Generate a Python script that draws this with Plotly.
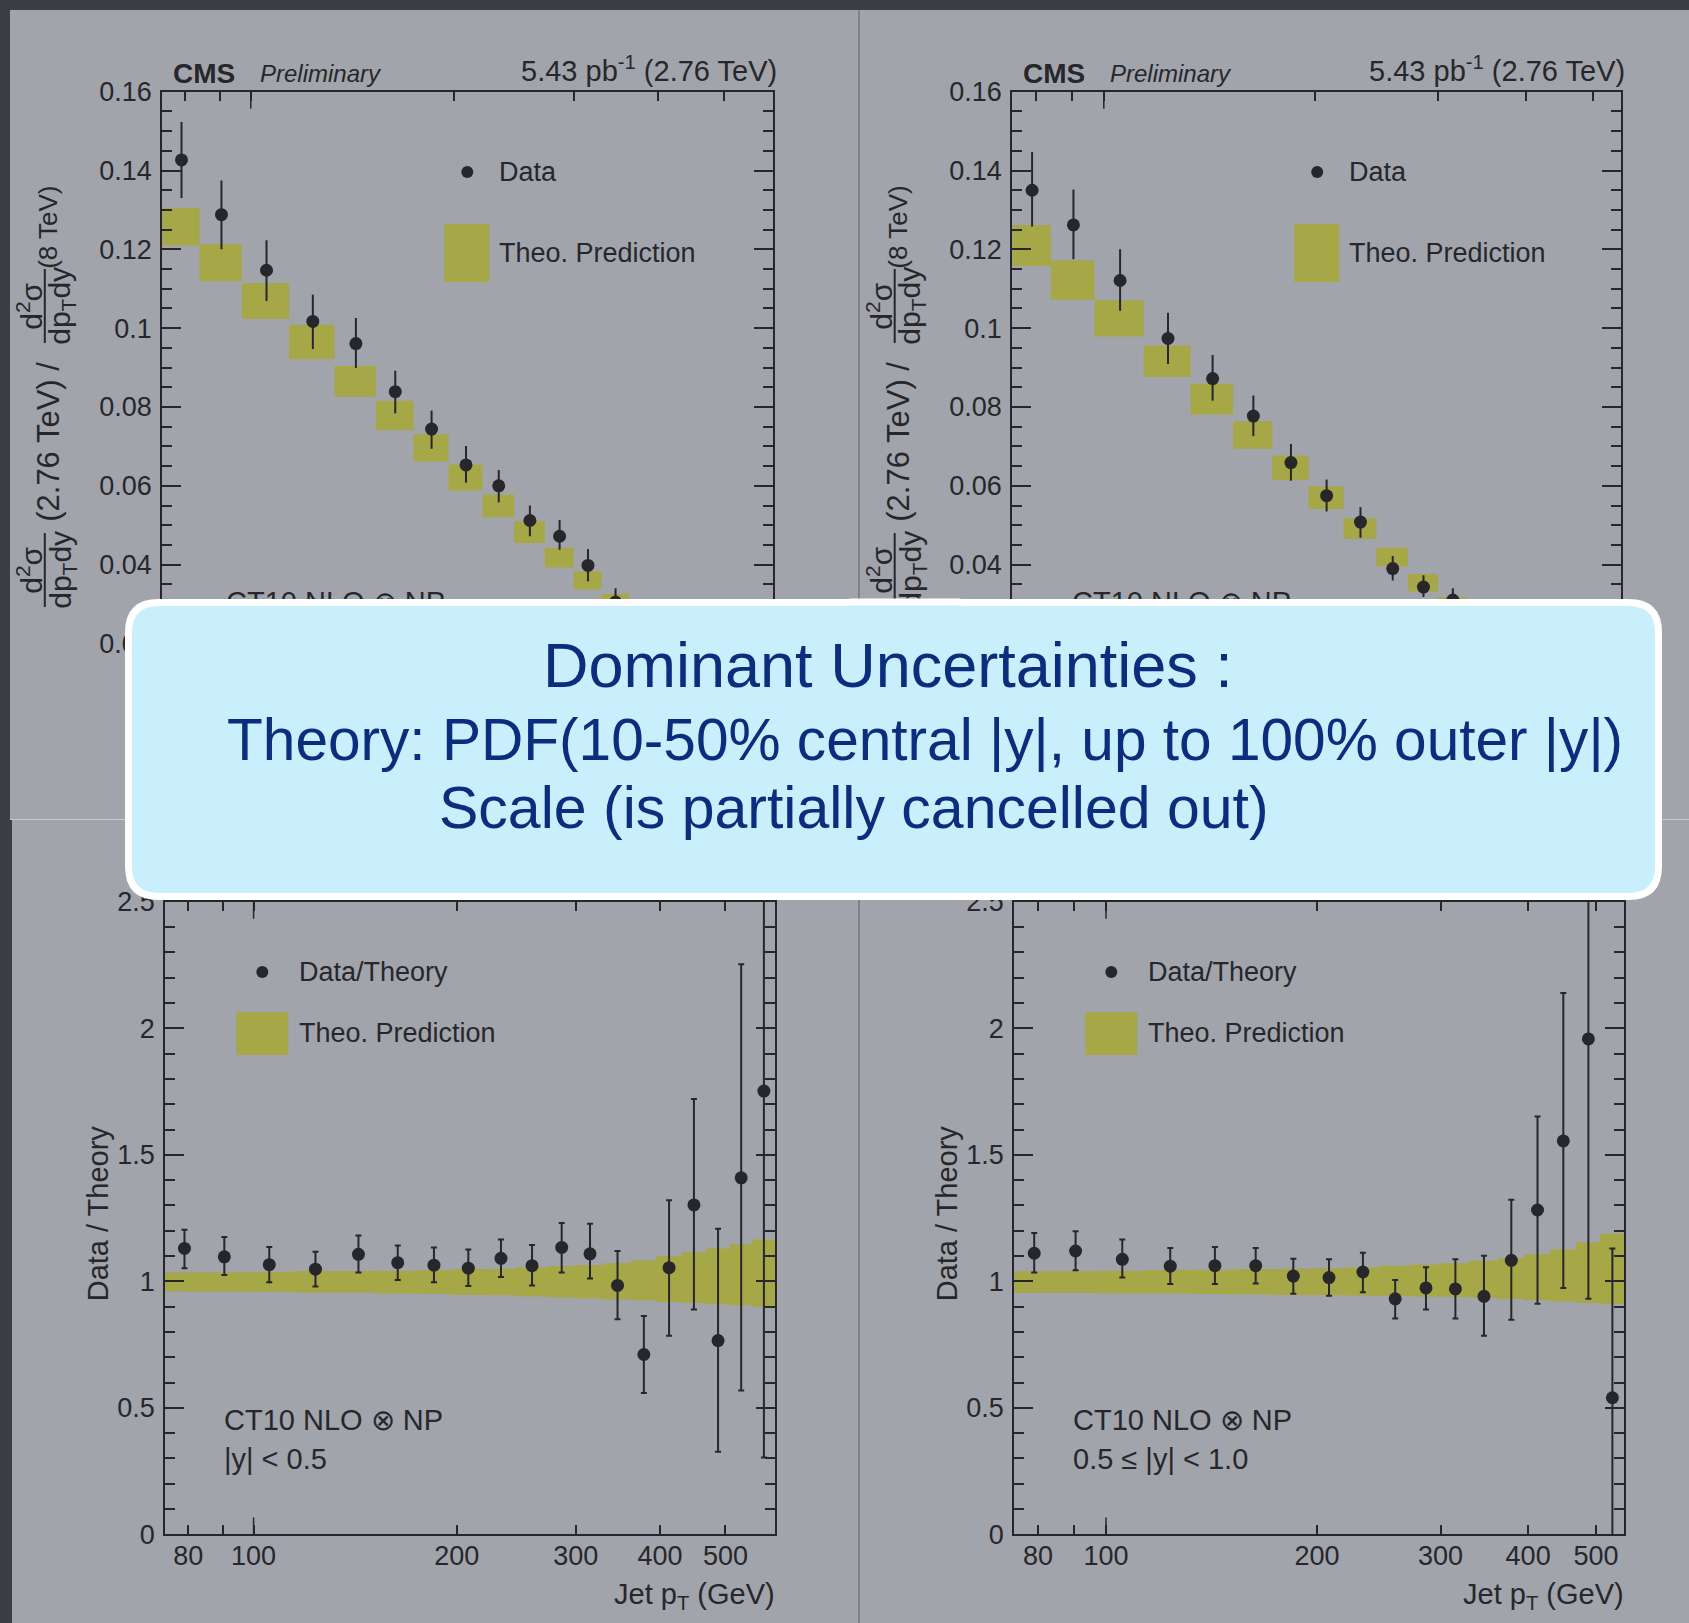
import math
import plotly.graph_objects as go

W, H = 1689, 1623

# ---------------- data ----------------
# inclusive-jet pT bin edges (GeV)
edges_central = [74, 84, 97, 114, 133, 153, 174, 196, 220, 245, 272, 300,
                 330, 362, 395, 430, 468, 507, 548, 592]
edges_forward = edges_central[:-1]

# cross-section ratio 2.76 TeV / 8 TeV, |y| < 0.5
ratio_c = [0.1427, 0.1288, 0.1147, 0.1017, 0.0961, 0.0839, 0.0744, 0.0653,
           0.0600, 0.0512, 0.0472, 0.0398, 0.0305]
ratio_c_up = [0.0096, 0.0087, 0.0076, 0.0068, 0.0065, 0.0053, 0.0047, 0.0048,
              0.0040, 0.0038, 0.0041, 0.0042, 0.0035]
ratio_c_dn = [0.0097, 0.0088, 0.0078, 0.0070, 0.0062, 0.0055, 0.0050, 0.0045,
              0.0042, 0.0040, 0.0034, 0.0040, 0.0035]
theo_c_hi = [0.1305, 0.1213, 0.1114, 0.1009, 0.0904, 0.0816, 0.0731, 0.0654,
             0.0578, 0.0511, 0.0443, 0.0383, 0.0326]
theo_c_lo = [0.1210, 0.1119, 0.1024, 0.0921, 0.0826, 0.0741, 0.0662, 0.0588,
             0.0520, 0.0455, 0.0393, 0.0337, 0.0290]

# cross-section ratio 2.76 TeV / 8 TeV, 0.5 <= |y| < 1.0
ratio_f = [0.1350, 0.1262, 0.1121, 0.0974, 0.0872, 0.0777, 0.0659, 0.0575,
           0.0508, 0.0390, 0.0343, 0.0310]
ratio_f_up = [0.0097, 0.0090, 0.0079, 0.0065, 0.0060, 0.0052, 0.0047, 0.0041,
              0.0038, 0.0032, 0.0030, 0.0030]
ratio_f_dn = [0.0092, 0.0087, 0.0077, 0.0065, 0.0056, 0.0051, 0.0046, 0.0040,
              0.0040, 0.0030, 0.0025, 0.0030]
theo_f_hi = [0.1262, 0.1172, 0.1071, 0.0956, 0.0859, 0.0764, 0.0677, 0.0598,
             0.0518, 0.0443, 0.0376, 0.0318]
theo_f_lo = [0.1158, 0.1072, 0.0979, 0.0876, 0.0781, 0.0694, 0.0615, 0.0541,
             0.0466, 0.0396, 0.0332, 0.0285]

# data / theory, |y| < 0.5
dt_c = [1.130, 1.097, 1.066, 1.048, 1.107, 1.074, 1.064, 1.052, 1.091, 1.062,
        1.134, 1.109, 0.984, 0.711, 1.054, 1.302, 0.766, 1.409, 1.752]
dt_c_up = [0.074, 0.078, 0.070, 0.069, 0.074, 0.068, 0.070, 0.074, 0.074, 0.082,
           0.097, 0.119, 0.136, 0.152, 0.267, 0.419, 0.442, 0.844, 1.000]
dt_c_dn = [0.078, 0.072, 0.070, 0.068, 0.072, 0.069, 0.068, 0.070, 0.074, 0.078,
           0.099, 0.098, 0.134, 0.152, 0.269, 0.413, 0.439, 0.840, 1.448]
band_c_hi = [1.035, 1.035, 1.037, 1.040, 1.040, 1.042, 1.045, 1.048, 1.050, 1.055,
             1.060, 1.065, 1.072, 1.082, 1.100, 1.115, 1.130, 1.148, 1.165]
band_c_lo = [0.960, 0.960, 0.958, 0.956, 0.955, 0.952, 0.950, 0.947, 0.945, 0.940,
             0.936, 0.932, 0.928, 0.924, 0.918, 0.915, 0.911, 0.906, 0.900]

# data / theory, 0.5 <= |y| < 1.0
dt_f = [1.111, 1.120, 1.087, 1.060, 1.062, 1.062, 1.021, 1.015, 1.037, 0.931,
        0.974, 0.970, 0.941, 1.083, 1.282, 1.555, 1.958, 0.540]
dt_f_up = [0.080, 0.078, 0.078, 0.072, 0.074, 0.070, 0.068, 0.072, 0.076, 0.074,
           0.082, 0.117, 0.160, 0.240, 0.370, 0.585, 0.800, 0.590]
dt_f_dn = [0.076, 0.076, 0.072, 0.070, 0.072, 0.070, 0.070, 0.072, 0.080, 0.078,
           0.085, 0.117, 0.156, 0.235, 0.370, 0.581, 1.027, 0.600]
band_f_hi = [1.039, 1.040, 1.042, 1.045, 1.046, 1.048, 1.050, 1.052, 1.055, 1.062,
             1.067, 1.072, 1.081, 1.091, 1.107, 1.126, 1.155, 1.189]
band_f_lo = [0.955, 0.955, 0.953, 0.951, 0.950, 0.948, 0.946, 0.945, 0.944, 0.942,
             0.940, 0.938, 0.935, 0.930, 0.925, 0.920, 0.915, 0.912]

x_ticks = [80, 100, 200, 300, 400, 500]
ytop_ticks = [0, 0.02, 0.04, 0.06, 0.08, 0.10, 0.12, 0.14, 0.16]
ytop_text = ["0", "0.02", "0.04", "0.06", "0.08", "0.1", "0.12", "0.14", "0.16"]
ybot_ticks = [0, 0.5, 1, 1.5, 2, 2.5]
ybot_text = ["0", "0.5", "1", "1.5", "2", "2.5"]

# ---------------- style ----------------
SLIDE = "#3b3e44"
PANEL = "#a1a4ab"
OLIVE = "#a6a746"
INK = "#27272b"
NAVY = "#0b2d7e"
BOXFILL = "#c9eefc"
FONT = "Liberation Sans, Arial, Helvetica, sans-serif"


def px(x):
    return x / W


def py(y):
    return 1 - y / H


def centers(edges, n):
    return [0.5 * (edges[i] + edges[i + 1]) for i in range(n)]


def boxes(edges, lo, hi):
    xs, ys = [], []
    for i in range(len(lo)):
        a, b = edges[i], edges[i + 1]
        xs += [a, b, b, a, a, None]
        ys += [lo[i], lo[i], hi[i], hi[i], lo[i], None]
    return xs, ys


def band(edges, lo, hi):
    xs, ys = [], []
    for i in range(len(hi)):
        xs += [edges[i], edges[i + 1]]
        ys += [hi[i], hi[i]]
    for i in reversed(range(len(lo))):
        xs += [edges[i + 1], edges[i]]
        ys += [lo[i], lo[i]]
    xs.append(xs[0])
    ys.append(ys[0])
    return xs, ys


fig = go.Figure()

# subplot geometry in pixels: (x0, x1, y_top, y_bottom)
geo = {
    1: (162.3, 773.4, 91.7, 722.3),
    2: (1012.2, 1621.3, 91.7, 722.3),
    3: (165.3, 775.0, 901.8, 1534.4),
    4: (1014.3, 1624.0, 901.8, 1534.4),
}
xmax = {1: 592, 2: 548, 3: 592, 4: 548}


def ax_name(k, a):
    return a if k == 1 else f"{a}{k}"


# ---- theory boxes and data, upper panels ----
for k, edges, lo, hi, vals, up, dn in [
    (1, edges_central, theo_c_lo, theo_c_hi, ratio_c, ratio_c_up, ratio_c_dn),
    (2, edges_central, theo_f_lo, theo_f_hi, ratio_f, ratio_f_up, ratio_f_dn),
]:
    bx, by = boxes(edges, lo, hi)
    fig.add_trace(go.Scatter(x=bx, y=by, mode="lines", fill="toself",
                             fillcolor=OLIVE, line=dict(width=0, color=OLIVE),
                             xaxis=ax_name(k, "x"), yaxis=ax_name(k, "y"),
                             showlegend=False, hoverinfo="skip"))
    fig.add_trace(go.Scatter(x=centers(edges, len(vals)), y=vals, mode="markers",
                             marker=dict(size=13, color=INK),
                             error_y=dict(type="data", array=up, arrayminus=dn,
                                          color=INK, thickness=2, width=0),
                             xaxis=ax_name(k, "x"), yaxis=ax_name(k, "y"),
                             showlegend=False))

# ---- theory band and data/theory, lower panels ----
for k, edges, lo, hi, vals, up, dn in [
    (3, edges_central, band_c_lo, band_c_hi, dt_c, dt_c_up, dt_c_dn),
    (4, edges_forward, band_f_lo, band_f_hi, dt_f, dt_f_up, dt_f_dn),
]:
    bx, by = band(edges, lo, hi)
    fig.add_trace(go.Scatter(x=bx, y=by, mode="lines", fill="toself",
                             fillcolor=OLIVE, line=dict(width=0, color=OLIVE),
                             xaxis=ax_name(k, "x"), yaxis=ax_name(k, "y"),
                             showlegend=False, hoverinfo="skip"))
    fig.add_trace(go.Scatter(x=centers(edges, len(vals)), y=vals, mode="markers",
                             marker=dict(size=13, color=INK),
                             error_y=dict(type="data", array=up, arrayminus=dn,
                                          color=INK, thickness=2, width=3),
                             xaxis=ax_name(k, "x"), yaxis=ax_name(k, "y"),
                             showlegend=False))


# model label inside the upper panels (trace text, sits under the callout)
def data_xy(k, x_pix, y_pix, yr):
    x0, x1, yt, yb = geo[k]
    lx0, lx1 = math.log10(74), math.log10(xmax[k])
    lx = lx0 + (x_pix - x0) / (x1 - x0) * (lx1 - lx0)
    yv = yr[1] - (y_pix - yt) / (yb - yt) * (yr[1] - yr[0])
    return 10 ** lx, yv


for k, xl in [(1, 226), (2, 1072)]:
    xd, yd = data_xy(k, xl, 605, (0, 0.16))
    fig.add_trace(go.Scatter(x=[xd], y=[yd], mode="text", text=["CT10 NLO ⊗ NP"],
                             textposition="middle right",
                             textfont=dict(family=FONT, size=29, color=INK),
                             xaxis=ax_name(k, "x"), yaxis=ax_name(k, "y"),
                             showlegend=False, hoverinfo="skip"))

# ---------------- axes ----------------
layout_axes = {}
for k in (1, 2, 3, 4):
    x0, x1, yt, yb = geo[k]
    top = k in (1, 2)
    xa = dict(type="log", domain=[px(x0), px(x1)],
              range=[math.log10(74), math.log10(xmax[k])],
              tickmode="array", tickvals=x_ticks, ticktext=[str(v) for v in x_ticks],
              ticks="inside", ticklen=9, tickwidth=1.5, tickcolor=INK,
              minor=dict(tickmode="array", tickvals=[90], ticks="inside",
                         ticklen=9, tickwidth=1.5, tickcolor=INK),
              showline=True, linecolor=INK, linewidth=2, mirror="ticks",
              showgrid=False, zeroline=False, automargin=False,
              showticklabels=not top, ticklabelstandoff=-4,
              tickfont=dict(family=FONT, size=27, color=INK),
              anchor=ax_name(k, "y"), fixedrange=True)
    if top:
        # the two lowest labels sit under the callout; only the left one peeks out
        labels = list(ytop_text)
        labels[0] = ""
        if k == 2:
            labels[1] = ""
        ya = dict(range=[0, 0.16], tickmode="array", tickvals=ytop_ticks,
                  ticktext=labels,
                  minor=dict(dtick=0.005, ticks="inside", ticklen=10,
                             tickwidth=1.5, tickcolor=INK))
    else:
        ya = dict(range=[0, 2.5], tickmode="array", tickvals=ybot_ticks,
                  ticktext=ybot_text,
                  minor=dict(dtick=0.1, ticks="inside", ticklen=10,
                             tickwidth=1.5, tickcolor=INK))
    ya.update(domain=[py(yb), py(yt)], ticks="inside", ticklen=19, tickwidth=1.5,
              tickcolor=INK, showline=True, linecolor=INK, linewidth=2,
              mirror="ticks", showgrid=False, zeroline=False, automargin=False,
              tickfont=dict(family=FONT, size=27, color=INK),
              ticklabelstandoff=3, anchor=ax_name(k, "x"), fixedrange=True)
    layout_axes[ax_name(k, "xaxis")] = xa
    layout_axes[ax_name(k, "yaxis")] = ya

shapes = []
annotations = []

# slide panels
panel_rects = [(10, 10, 858, 819), (860, 10, W, 819),
               (12, 820, 858, H), (860, 820, W, H)]
for (a, b, c, d) in panel_rects:
    shapes.append(dict(type="rect", xref="paper", yref="paper", layer="below",
                       x0=px(a), x1=px(c), y0=py(d), y1=py(b),
                       fillcolor=PANEL, line=dict(width=0)))
shapes.append(dict(type="line", xref="paper", yref="paper", layer="below",
                   x0=px(859), x1=px(859), y0=py(10), y1=0,
                   line=dict(color="#c4c7cd", width=1)))
shapes.append(dict(type="line", xref="paper", yref="paper", layer="below",
                   x0=px(10), x1=1, y0=py(819.5), y1=py(819.5),
                   line=dict(color="#c4c7cd", width=1)))

# long decade ticks at 100 GeV
for k in (1, 2, 3, 4):
    x0, x1, yt, yb = geo[k]
    frac = 17 / (yb - yt)
    for (ya0, ya1) in [(0, frac), (1 - frac, 1)]:
        shapes.append(dict(type="line", xref=ax_name(k, "x"),
                           yref=ax_name(k, "y") + " domain",
                           x0=100, x1=100, y0=ya0, y1=ya1, layer="above",
                           line=dict(color=INK, width=1.5)))


def text(x, y, s, size, xanchor="left", yanchor="middle", color=INK, angle=0):
    annotations.append(dict(x=px(x), y=py(y), xref="paper", yref="paper",
                            text=s, showarrow=False, xanchor=xanchor,
                            yanchor=yanchor, textangle=angle,
                            font=dict(family=FONT, size=size, color=color)))


def patch(xc, yc, w, h, color):
    annotations.append(dict(x=px(xc), y=py(yc), xref="paper", yref="paper",
                            text=" ", showarrow=False, xanchor="center",
                            yanchor="middle", width=w, height=h, borderpad=0,
                            bgcolor=color, font=dict(size=1, color=color)))


# headers and legends of the four panels
for k in (1, 2, 3, 4):
    x0, x1, yt, yb = geo[k]
    if k in (1, 2):
        text(x0 + 9, 73, "<b>CMS</b>", 28)
        text(x0 + 96, 74, "<i>Preliminary</i>", 24)
        text(x1 + 6, 88.5, "5.43 pb<sup>-1</sup> (2.76 TeV)", 29,
             xanchor="right", yanchor="bottom")
        dx = x0 + 305
        shapes.append(dict(type="circle", xref="paper", yref="paper",
                           x0=px(dx - 6), x1=px(dx + 6), y0=py(178), y1=py(166),
                           fillcolor=INK, line=dict(width=0)))
        shapes.append(dict(type="rect", xref="paper", yref="paper",
                           x0=px(dx - 23), x1=px(dx + 22), y0=py(282), y1=py(224),
                           fillcolor=OLIVE, line=dict(width=0)))
        text(dx + 30, 172, "Data", 27)
        text(dx + 30, 253, "Theo. Prediction", 27)
        # y title: two stacked fractions
        xb = x0 - 117.5
        for yc in (570, 306):
            text(xb - 15, yc, "d<sup>2</sup>σ", 30, xanchor="center", angle=-90)
            text(xb + 17, yc, "dp<sub>T</sub>dy", 30, xanchor="center", angle=-90)
            shapes.append(dict(type="line", xref="paper", yref="paper",
                               x0=px(xb), x1=px(xb),
                               y0=py(yc + 37), y1=py(yc - 37),
                               line=dict(color=INK, width=2)))
        text(xb + 3, 442, "(2.76 TeV) /", 31, xanchor="center", angle=-90)
        text(xb + 3, 227, "(8 TeV)", 26, xanchor="center", angle=-90)
    else:
        dx = x0 + 97
        shapes.append(dict(type="circle", xref="paper", yref="paper",
                           x0=px(dx - 6), x1=px(dx + 6), y0=py(978), y1=py(966),
                           fillcolor=INK, line=dict(width=0)))
        shapes.append(dict(type="rect", xref="paper", yref="paper",
                           x0=px(dx - 26), x1=px(dx + 26), y0=py(1055), y1=py(1012),
                           fillcolor=OLIVE, line=dict(width=0)))
        text(dx + 35, 972, "Data/Theory", 27)
        text(dx + 35, 1033, "Theo. Prediction", 27)
        lab = "|y| < 0.5" if k == 3 else "0.5 ≤ |y| < 1.0"
        text(x0 + 57, 1419.5, "CT10 NLO ⊗ NP", 29)
        text(x0 + 57, 1458.5, lab, 29)
        text(x0 - 67, 1213, "Data / Theory", 29, xanchor="center", angle=-90)
        text(x1 + 2, 1576, "Jet p<sub>T</sub> (GeV)", 29, xanchor="right",
             yanchor="top")

# callout box with rounded corners
bx0, bx1, by0, by1, r = 128.5, 1658.5, 602.5, 896.5, 30
rx, ry = r / W, r / H
X0, X1, Y0, Y1 = px(bx0), px(bx1), py(by1), py(by0)
path = (f"M {X0 + rx},{Y1} L {X1 - rx},{Y1} Q {X1},{Y1} {X1},{Y1 - ry} "
        f"L {X1},{Y0 + ry} Q {X1},{Y0} {X1 - rx},{Y0} L {X0 + rx},{Y0} "
        f"Q {X0},{Y0} {X0},{Y0 + ry} L {X0},{Y1 - ry} Q {X0},{Y1} {X0 + rx},{Y1} Z")
shapes.append(dict(type="path", path=path, xref="paper", yref="paper",
                   layer="above", fillcolor=BOXFILL,
                   line=dict(color="white", width=7)))

# the right-hand y title runs under the callout's top edge
patch(905, 602.5, 110, 7, "white")
patch(905, 614, 110, 16, BOXFILL)

text(541, 665, "Dominant Uncertainties :", 63, color=NAVY)
text(225, 739, "Theory: PDF(10-50% central |y|, up to 100% outer |y|)", 58.6,
     color=NAVY)
text(437, 808, "Scale (is partially cancelled out)", 59, color=NAVY)

fig.update_layout(width=W, height=H,
                  margin=dict(l=0, r=0, t=0, b=0, pad=0, autoexpand=False),
                  paper_bgcolor=SLIDE, plot_bgcolor="rgba(0,0,0,0)",
                  showlegend=False, shapes=shapes, annotations=annotations,
                  **layout_axes)

fig.write_html("out.html")
